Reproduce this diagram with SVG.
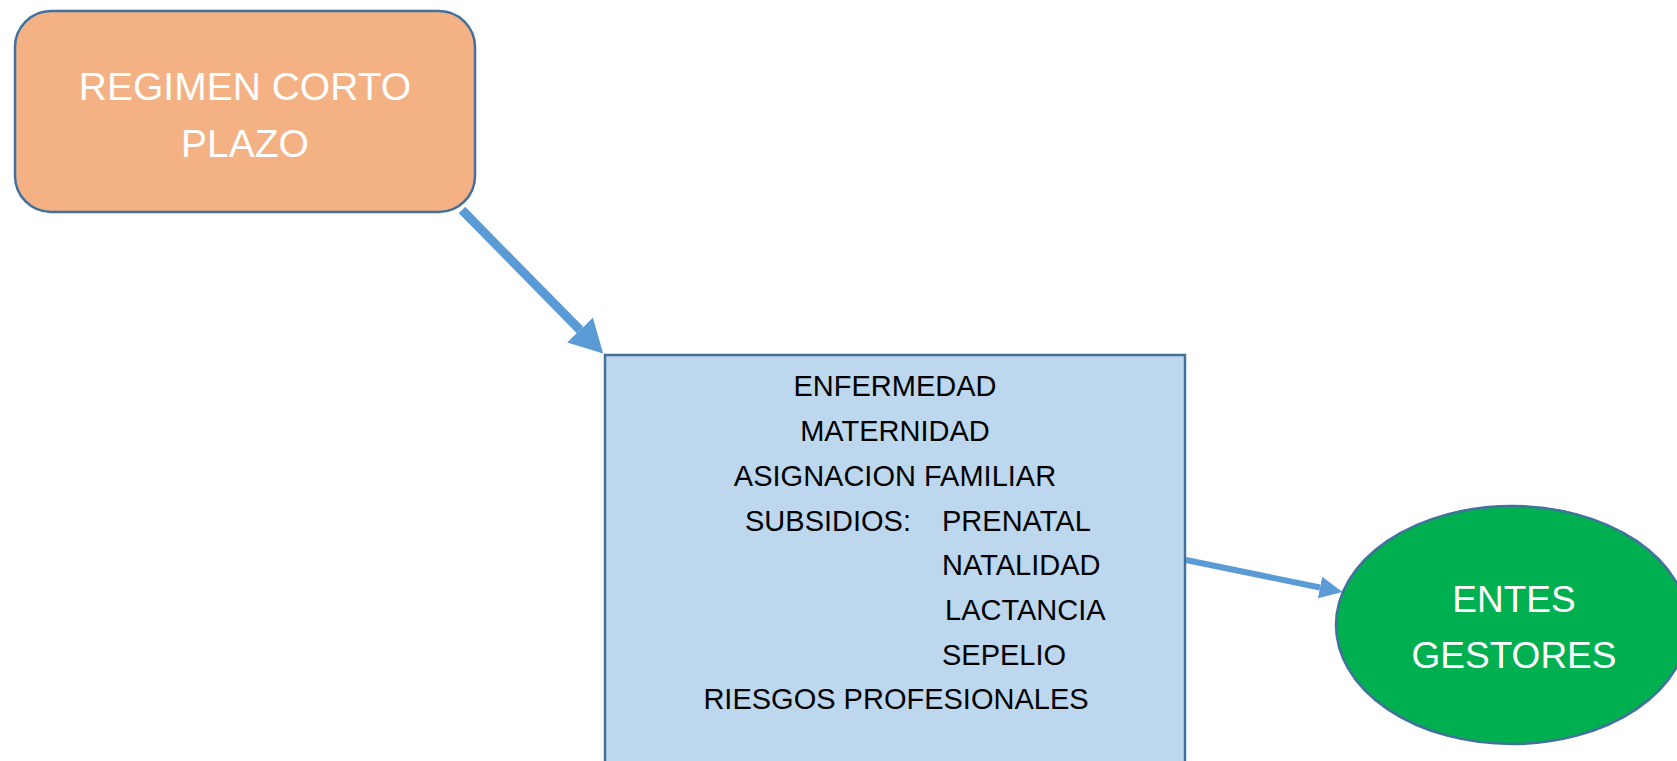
<svg xmlns="http://www.w3.org/2000/svg" width="1677" height="761" viewBox="0 0 1677 761">
<style>
.node{stroke:#41719C;stroke-width:2.5}
.lbl{font-family:"Liberation Sans",Arial,sans-serif}
.w{fill:#FFFFFF}
.b{fill:#000000;font-size:29px}
.conn{stroke:#5B9BD5;fill:none}
</style>
<defs>
<marker id="ah1" markerUnits="userSpaceOnUse" markerWidth="34" markerHeight="36" refX="0" refY="18" orient="auto">
<path d="M0,0 L33,18 L0,36 z" fill="#5B9BD5"/>
</marker>
<marker id="ah2" markerUnits="userSpaceOnUse" markerWidth="24" markerHeight="22" refX="0" refY="11" orient="auto">
<path d="M0,0 L23,11 L0,22 z" fill="#5B9BD5"/>
</marker>
</defs>
<rect width="1677" height="761" fill="#FFFFFF"/>
<g id="connectors">
<line class="conn" x1="462" y1="210" x2="580" y2="330" stroke-width="9" marker-end="url(#ah1)"/>
<line class="conn" x1="1186" y1="560" x2="1320" y2="587.5" stroke-width="6" marker-end="url(#ah2)"/>
</g>
<g id="regimen">
<rect class="node" x="15" y="11" width="460" height="201" rx="36" ry="36" fill="#F4B183"/>
<text class="lbl w" font-size="39" text-anchor="middle" x="245" y="100">REGIMEN CORTO</text>
<text class="lbl w" font-size="39" text-anchor="middle" x="245" y="157">PLAZO</text>
</g>
<g id="contingencias">
<rect class="node" x="605" y="355" width="580" height="420" fill="#BDD7EE"/>
<text class="lbl b" text-anchor="middle" x="895" y="396">ENFERMEDAD</text>
<text class="lbl b" text-anchor="middle" x="895" y="441">MATERNIDAD</text>
<text class="lbl b" text-anchor="middle" x="895" y="486">ASIGNACION FAMILIAR</text>
<text class="lbl b" x="745" y="531">SUBSIDIOS:</text>
<text class="lbl b" x="942" y="531">PRENATAL</text>
<text class="lbl b" x="942" y="575">NATALIDAD</text>
<text class="lbl b" x="945" y="620">LACTANCIA</text>
<text class="lbl b" x="942" y="665">SEPELIO</text>
<text class="lbl b" text-anchor="middle" x="896" y="709">RIESGOS PROFESIONALES</text>
</g>
<g id="entes">
<ellipse class="node" cx="1512" cy="625" rx="176" ry="119" fill="#00B050"/>
<text class="lbl w" font-size="37" text-anchor="middle" x="1514" y="612">ENTES</text>
<text class="lbl w" font-size="37" text-anchor="middle" x="1514" y="668">GESTORES</text>
</g>
</svg>
